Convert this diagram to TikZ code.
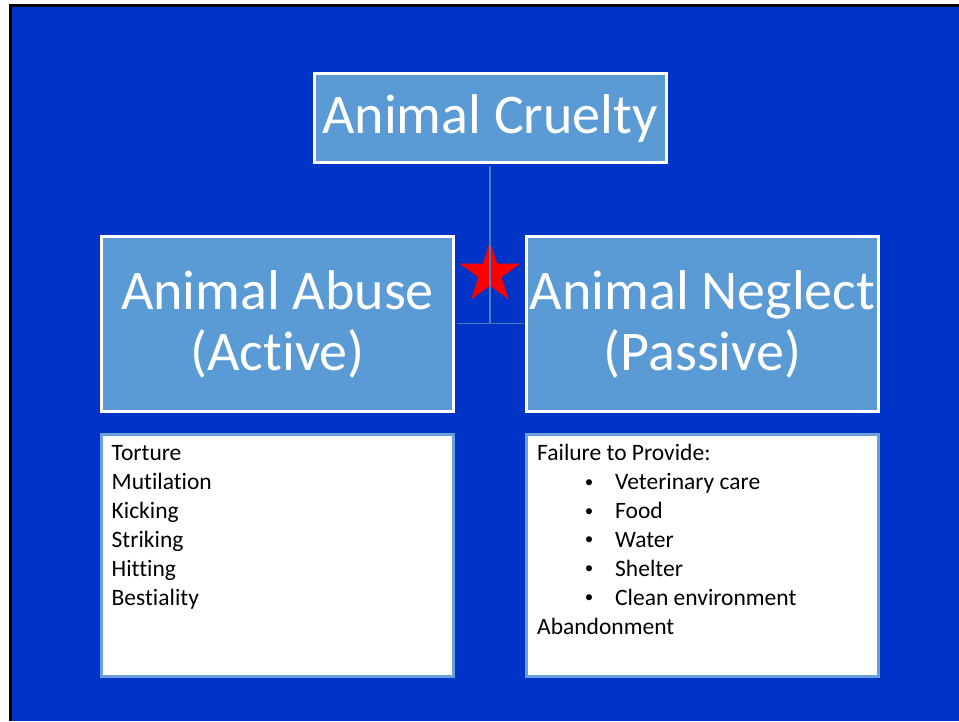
\documentclass[tikz,border=0pt]{standalone}
\usepackage{fontspec}
\setmainfont{Carlito}[RawFeature=-liga, RawFeature=-clig, RawFeature=-calt, RawFeature=-dlig]
\usetikzlibrary{shapes.geometric}
\definecolor{bgblue}{HTML}{0033C8}
\definecolor{boxblue}{HTML}{5B9BD5}
\definecolor{listborder}{HTML}{6A9FD8}
\definecolor{connblue}{HTML}{4A7EBB}
\begin{document}
\begin{tikzpicture}[x=1pt,y=-1pt,
  headbox/.style={rectangle, draw=white, line width=3pt, fill=boxblue, minimum width=352pt, minimum height=175pt, inner sep=0pt},
  listbox/.style={rectangle, draw=listborder, line width=3pt, fill=white, minimum width=352pt, minimum height=242pt, inner sep=0pt},
  headtxt/.style={text=white, font=\fontsize{56}{61.5}\selectfont, anchor=base, inner sep=0pt},
  listtxt/.style={text=black, font=\fontsize{23.5}{28.9}\selectfont, anchor=base west, inner sep=0pt},
  bullettxt/.style={text=black, font=\fontsize{17}{20}\selectfont, anchor=base, inner sep=0pt},
  conn/.style={draw=connblue, line width=1.5pt},
  redstar/.style={star, star points=5, star point ratio=2.618, fill=red, draw=none, minimum size=64pt, inner sep=0pt}]
\useasboundingbox (0,0) rectangle (959,721);
\fill[white] (0,0) rectangle (959,721);
\fill[black] (9,4) rectangle (959,721);
\fill[bgblue] (12,7) rectangle (959,721);
% boxes
\node[headbox, minimum height=89pt] (cruelty) at (490,118) {};
\node[headbox] (abuse) at (277.5,323.5) {};
\node[headbox] (neglect) at (702.5,323.5) {};
\node[listbox] (abuselist) at (277.5,555) {};
\node[listbox] (neglectlist) at (702.5,555) {};
% star
\node[redstar] (star) at (490,273.5) {};
% connectors
\draw[conn, shorten <=1.5pt] (cruelty.south) -- (cruelty.south |- abuse.east);
\draw[conn, shorten <=1.5pt, shorten >=1.5pt] (abuse.east) -- (neglect.west);
% headings
\node[headtxt] (tcruelty) at (490,133) {Animal Cruelty};
\node[headtxt] (tabuse1) at (277.5,309) {Animal Abuse};
\node[headtxt] (tabuse2) at (277.5,370.5) {(Active)};
\node[headtxt] (tneglect1) at (702.5,309) {Animal Neglect};
\node[headtxt] (tneglect2) at (702.5,370.5) {(Passive)};
% left list
\foreach \t [count=\i from 0] in {Torture,Mutilation,Kicking,Striking,Hitting,Bestiality}
  \node[listtxt] (la\i) at (111.5,460.7+28.9*\i) {\t};
% right list
\node[listtxt] (lb0) at (537,460.7) {Failure to Provide:};
\foreach \t [count=\i from 1] in {Veterinary care,Food,Water,Shelter,Clean environment}{
  \node[bullettxt] (bb\i) at (589,458.2+28.9*\i) {•};
  \node[listtxt] (lb\i) at (615,460.7+28.9*\i) {\t};
}
\node[listtxt] (lb6) at (537,634.1) {Abandonment};
\end{tikzpicture}
\end{document}
